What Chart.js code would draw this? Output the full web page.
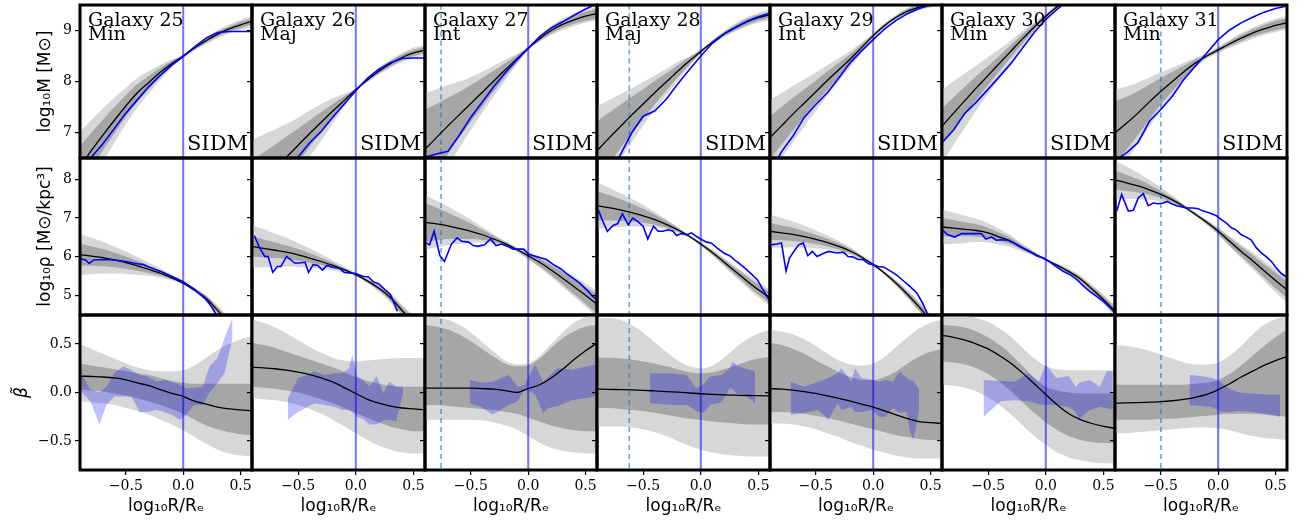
<!DOCTYPE html>
<html>
<head>
<meta charset="utf-8">
<script src="https://cdn.jsdelivr.net/npm/chart.js@4.4.0/dist/chart.umd.min.js"></script>
<style>
  body { margin: 0; background: #fff; }
  #wrap { position: relative; width: 1306px; height: 526px; overflow: hidden; background: #fff; }
  #wrap canvas { position: absolute; }
</style>
</head>
<body>
<div id="wrap"></div>
<script>
// radial grid shared by the model curves
const X = [-0.9,-0.8,-0.7,-0.6,-0.5,-0.4,-0.3,-0.2,-0.1,0,0.1,0.2,0.3,0.4,0.5,0.6];
const galaxyIds = ['25','26','27','28','29','30','31'];
const projections = ['Min','Maj','Int','Maj','Int','Min','Min'];
const dashedX = [null, null, -0.76, -0.62, null, null, -0.5];
const xTicks = [-0.5, 0, 0.5];
const massTicks = [7, 8, 9];
const rhoTicks = [5, 6, 7, 8];
const betaTicks = [-0.5, 0, 0.5];

// enclosed mass: model median, 1 and 2 sigma half widths, measured profile
const massMed = [
  [6.33,6.65,6.95,7.24,7.52,7.78,7.98,8.18,8.35,8.5,8.66,8.8,8.93,9.03,9.11,9.18],
  [5.85,6.08,6.3,6.52,6.75,6.98,7.2,7.42,7.63,7.84,8.03,8.2,8.35,8.47,8.56,8.62],
  [6.67,6.9,7.13,7.35,7.57,7.79,8.01,8.23,8.44,8.65,8.84,9.0,9.12,9.21,9.28,9.33],
  [6.64,6.88,7.11,7.34,7.56,7.78,7.99,8.2,8.4,8.59,8.77,8.93,9.06,9.17,9.25,9.31],
  [6.9,7.13,7.36,7.58,7.8,8.02,8.23,8.44,8.67,8.9,9.1,9.26,9.38,9.46,9.52,9.56],
  [7.12,7.38,7.63,7.88,8.12,8.36,8.6,8.84,9.07,9.28,9.47,9.63,9.76,9.86,9.93,9.98],
  [6.99,7.18,7.38,7.6,7.81,8.0,8.19,8.36,8.5,8.62,8.74,8.85,8.95,9.03,9.1,9.15]
];
const massW1 = [
  [0.4,0.35,0.3,0.26,0.21,0.17,0.13,0.09,0.05,0.02,0.03,0.04,0.05,0.05,0.06,0.06],
  [0.6,0.53,0.46,0.4,0.33,0.26,0.2,0.14,0.08,0.02,0.03,0.04,0.05,0.06,0.06,0.06],
  [0.78,0.66,0.55,0.45,0.36,0.28,0.2,0.13,0.07,0.02,0.04,0.06,0.07,0.08,0.09,0.09],
  [0.58,0.5,0.43,0.36,0.29,0.23,0.17,0.12,0.07,0.03,0.03,0.04,0.05,0.06,0.06,0.06],
  [0.42,0.37,0.32,0.27,0.22,0.18,0.14,0.1,0.06,0.03,0.03,0.03,0.04,0.04,0.05,0.05],
  [0.35,0.31,0.27,0.23,0.19,0.15,0.12,0.09,0.06,0.03,0.03,0.03,0.04,0.04,0.05,0.05],
  [0.62,0.52,0.43,0.34,0.26,0.19,0.12,0.07,0.03,0.04,0.05,0.06,0.07,0.08,0.09,0.09]
];
const massW2 = [
  [0.68,0.6,0.52,0.44,0.36,0.29,0.22,0.15,0.08,0.03,0.05,0.07,0.08,0.09,0.1,0.1],
  [1.0,0.88,0.76,0.65,0.54,0.45,0.36,0.25,0.13,0.03,0.05,0.07,0.08,0.09,0.1,0.1],
  [1.1,0.95,0.8,0.65,0.52,0.4,0.3,0.2,0.1,0.03,0.06,0.09,0.11,0.12,0.13,0.13],
  [0.87,0.75,0.64,0.53,0.43,0.34,0.26,0.18,0.1,0.04,0.04,0.06,0.08,0.09,0.1,0.1],
  [0.74,0.64,0.55,0.46,0.38,0.3,0.23,0.16,0.1,0.05,0.04,0.05,0.06,0.07,0.07,0.07],
  [0.72,0.62,0.53,0.44,0.36,0.28,0.21,0.15,0.09,0.05,0.04,0.05,0.06,0.07,0.07,0.07],
  [0.85,0.72,0.6,0.48,0.37,0.27,0.18,0.1,0.05,0.06,0.08,0.1,0.11,0.12,0.13,0.13]
];
const massObs = [
  [6.2,6.52,6.78,7.08,7.38,7.64,7.9,8.12,8.32,8.49,8.68,8.85,8.96,8.98,8.98,8.98],
  [null,null,null,6.2,6.52,6.8,7.02,7.3,7.56,7.82,8.06,8.24,8.37,8.45,8.46,8.46],
  [6.52,6.58,6.63,6.95,7.3,7.6,7.9,8.17,8.42,8.65,8.88,9.05,9.17,9.3,9.42,9.52],
  [null,6.1,6.55,6.99,7.32,7.42,7.65,7.95,8.23,8.5,8.75,8.93,9.06,9.18,9.27,9.34],
  [6.2,6.62,6.93,7.3,7.55,7.78,8.07,8.37,8.6,8.82,9.03,9.2,9.33,9.43,9.5,9.56],
  [6.8,7.05,7.38,7.6,7.85,8.1,8.36,8.66,8.96,9.22,9.42,9.6,9.75,9.85,9.92,9.97],
  [6.45,6.6,6.8,7.22,7.45,7.71,8.04,8.3,8.56,8.82,9.01,9.15,9.26,9.36,9.43,9.48]
];

// density
const rhoMed = [
  [6.06,6.02,5.98,5.92,5.85,5.77,5.68,5.58,5.46,5.32,5.14,4.93,4.62,4.3,4.0,3.7],
  [6.27,6.22,6.17,6.12,6.05,5.97,5.88,5.78,5.67,5.54,5.38,5.19,4.95,4.62,4.3,3.95],
  [6.89,6.85,6.8,6.73,6.66,6.57,6.46,6.34,6.19,6.03,5.86,5.66,5.45,5.23,5.01,4.78],
  [7.32,7.27,7.21,7.14,7.06,6.96,6.84,6.7,6.53,6.33,6.11,5.87,5.62,5.38,5.15,4.94],
  [6.66,6.62,6.58,6.52,6.45,6.37,6.27,6.15,5.99,5.8,5.58,5.32,5.03,4.71,4.35,3.98],
  [6.77,6.74,6.71,6.68,6.62,6.51,6.4,6.23,6.08,5.93,5.78,5.62,5.43,5.17,4.9,4.6],
  [7.98,7.91,7.83,7.73,7.61,7.47,7.3,7.1,6.89,6.66,6.4,6.14,5.9,5.64,5.39,5.15]
];
const rhoW1 = [
  [0.28,0.25,0.22,0.19,0.16,0.13,0.1,0.07,0.04,0.02,0.04,0.06,0.08,0.1,0.11,0.12],
  [0.26,0.23,0.2,0.17,0.15,0.12,0.09,0.07,0.04,0.02,0.04,0.06,0.08,0.1,0.11,0.12],
  [0.5,0.42,0.34,0.27,0.2,0.13,0.08,0.04,0.04,0.07,0.1,0.13,0.16,0.19,0.22,0.25],
  [0.38,0.33,0.28,0.23,0.18,0.13,0.09,0.05,0.03,0.03,0.05,0.07,0.09,0.11,0.13,0.15],
  [0.22,0.19,0.17,0.14,0.12,0.1,0.08,0.06,0.04,0.02,0.03,0.05,0.07,0.09,0.11,0.13],
  [0.24,0.21,0.18,0.16,0.13,0.11,0.08,0.06,0.04,0.02,0.03,0.04,0.05,0.07,0.08,0.09],
  [0.25,0.21,0.17,0.13,0.09,0.06,0.04,0.03,0.05,0.07,0.1,0.12,0.15,0.17,0.2,0.22]
];
const rhoW2 = [
  [0.53,0.47,0.41,0.35,0.29,0.23,0.17,0.12,0.07,0.04,0.06,0.09,0.12,0.15,0.18,0.2],
  [0.55,0.49,0.43,0.37,0.31,0.25,0.19,0.13,0.08,0.04,0.06,0.09,0.12,0.15,0.18,0.2],
  [0.7,0.6,0.5,0.4,0.3,0.2,0.12,0.06,0.06,0.1,0.14,0.18,0.22,0.26,0.3,0.34],
  [0.6,0.52,0.44,0.36,0.28,0.2,0.13,0.07,0.04,0.05,0.08,0.11,0.14,0.17,0.2,0.22],
  [0.43,0.38,0.33,0.28,0.23,0.18,0.14,0.1,0.06,0.03,0.05,0.08,0.11,0.14,0.17,0.2],
  [0.45,0.4,0.35,0.3,0.25,0.2,0.15,0.1,0.06,0.03,0.05,0.07,0.09,0.11,0.13,0.15],
  [0.5,0.42,0.34,0.26,0.18,0.11,0.06,0.05,0.07,0.1,0.14,0.18,0.22,0.26,0.3,0.33]
];
const rhoObsX = [
  [-0.9,-0.85,-0.82,-0.78,-0.7,-0.6,-0.5,-0.45,-0.4,-0.35,-0.3,-0.2,-0.1,0,0.1,0.2,0.25,0.3],
  [-0.88,-0.84,-0.79,-0.76,-0.72,-0.68,-0.65,-0.6,-0.53,-0.49,-0.44,-0.41,-0.37,-0.33,-0.29,-0.25,-0.21,-0.14,-0.1,0,0.06,0.11,0.15,0.2,0.25,0.3,0.36],
  [-0.89,-0.86,-0.82,-0.77,-0.73,-0.67,-0.62,-0.58,-0.52,-0.48,-0.44,-0.38,-0.33,-0.28,-0.23,-0.18,-0.13,-0.04,0.01,0.07,0.16,0.22,0.28,0.33,0.39,0.45,0.51,0.55,0.59],
  [-0.89,-0.85,-0.81,-0.76,-0.72,-0.68,-0.63,-0.59,-0.55,-0.5,-0.46,-0.41,-0.37,-0.33,-0.28,-0.24,-0.21,-0.17,-0.12,-0.08,-0.04,0.01,0.05,0.09,0.14,0.2,0.25,0.31,0.37,0.43,0.49,0.54,0.6],
  [-0.89,-0.84,-0.8,-0.76,-0.73,-0.68,-0.65,-0.61,-0.57,-0.53,-0.49,-0.44,-0.39,-0.35,-0.31,-0.26,-0.22,-0.18,-0.13,-0.09,-0.04,0,0.04,0.09,0.14,0.2,0.26,0.32,0.38,0.43,0.47],
  [-0.9,-0.85,-0.79,-0.73,-0.68,-0.62,-0.56,-0.52,-0.47,-0.43,-0.39,-0.33,-0.28,-0.24,-0.2,-0.14,-0.08,-0.02,0.04,0.09,0.15,0.21,0.27,0.33,0.38,0.44,0.5,0.56,0.6],
  [-0.885,-0.842,-0.784,-0.74,-0.697,-0.653,-0.61,-0.566,-0.523,-0.479,-0.445,-0.407,-0.363,-0.32,-0.276,-0.218,-0.175,-0.131,-0.073,-0.015,0.028,0.072,0.115,0.159,0.202,0.246,0.289,0.333,0.377,0.42,0.464,0.507,0.551,0.594]
];
const rhoObsY = [
  [5.95,5.92,5.83,5.92,5.93,5.92,5.88,5.85,5.82,5.8,5.74,5.63,5.5,5.36,5.16,4.9,4.7,4.45],
  [6.55,6.27,6.01,6.01,5.6,5.75,5.75,6.01,5.84,5.84,5.86,5.6,5.8,5.78,5.66,5.78,5.74,5.7,5.6,5.57,5.5,5.48,5.36,5.3,5.16,5.03,4.6],
  [6.36,6.31,6.66,6.03,5.88,6.33,6.49,6.4,6.38,6.29,6.27,6.31,6.46,6.29,6.33,6.27,6.2,6.2,6.06,6.01,5.93,5.8,5.7,5.58,5.45,5.32,5.15,5.02,4.91],
  [7.22,6.92,6.66,6.81,6.86,7.11,6.83,7.0,6.92,6.79,6.46,6.79,6.66,6.66,6.7,6.66,6.55,6.6,6.57,6.62,6.53,6.44,6.38,6.36,6.23,6.1,6.03,5.88,5.74,5.58,5.41,5.15,4.85],
  [6.31,6.33,6.36,5.63,5.97,6.19,6.31,6.36,6.03,6.14,6.01,6.08,6.14,6.12,6.1,6.12,6.01,6.0,5.93,5.93,5.82,5.8,5.75,5.74,5.65,5.54,5.39,5.24,5.07,4.81,4.55],
  [6.7,6.57,6.51,6.6,6.6,6.6,6.6,6.46,6.51,6.43,6.44,6.43,6.36,6.29,6.23,6.14,6.03,5.97,5.86,5.75,5.63,5.54,5.41,5.24,5.11,4.98,4.85,4.68,4.55],
  [7.18,7.61,7.18,7.2,7.52,7.63,7.32,7.39,7.37,7.39,7.43,7.37,7.32,7.29,7.26,7.26,7.24,7.18,7.13,7.06,6.96,6.87,6.75,6.69,6.57,6.51,6.43,6.23,6.1,6.0,5.88,5.71,5.57,5.48]
];

// anisotropy
const betaMed = [
  [0.17,0.165,0.16,0.15,0.13,0.1,0.07,0.03,-0.01,-0.04,-0.09,-0.12,-0.15,-0.17,-0.18,-0.19],
  [0.26,0.255,0.245,0.23,0.21,0.185,0.15,0.11,0.05,-0.01,-0.07,-0.11,-0.14,-0.16,-0.17,-0.18],
  [0.045,0.045,0.045,0.045,0.045,0.04,0.035,0.02,0.0,0.04,0.08,0.15,0.24,0.34,0.43,0.51],
  [0.035,0.033,0.03,0.027,0.022,0.016,0.01,0.003,-0.005,-0.013,-0.02,-0.025,-0.028,-0.031,-0.033,-0.035],
  [0.04,0.035,0.025,0.01,-0.01,-0.035,-0.06,-0.09,-0.12,-0.15,-0.19,-0.23,-0.27,-0.3,-0.31,-0.32],
  [0.59,0.57,0.54,0.5,0.45,0.38,0.3,0.2,0.09,-0.02,-0.13,-0.22,-0.28,-0.32,-0.35,-0.37],
  [-0.11,-0.108,-0.105,-0.1,-0.095,-0.085,-0.07,-0.05,-0.02,0.03,0.09,0.16,0.22,0.28,0.33,0.37]
];
const betaHi2 = [
  [0.5,0.45,0.4,0.35,0.3,0.26,0.23,0.22,0.22,0.23,0.28,0.36,0.44,0.5,0.55,0.58],
  [0.75,0.72,0.67,0.61,0.54,0.47,0.41,0.36,0.33,0.32,0.33,0.34,0.35,0.355,0.355,0.355],
  [0.79,0.78,0.75,0.7,0.62,0.52,0.42,0.33,0.29,0.3,0.38,0.5,0.62,0.72,0.78,0.8],
  [0.77,0.77,0.75,0.7,0.62,0.52,0.42,0.33,0.27,0.25,0.28,0.36,0.46,0.55,0.61,0.65],
  [0.65,0.63,0.6,0.55,0.48,0.4,0.33,0.29,0.28,0.3,0.37,0.47,0.57,0.66,0.72,0.75],
  [0.8,0.8,0.79,0.77,0.73,0.66,0.57,0.46,0.35,0.27,0.24,0.23,0.23,0.23,0.23,0.23],
  [0.49,0.48,0.46,0.43,0.39,0.35,0.31,0.29,0.29,0.31,0.38,0.48,0.6,0.7,0.76,0.79]
];
const betaHi1 = [
  [0.3,0.28,0.26,0.24,0.22,0.2,0.18,0.15,0.12,0.1,0.09,0.09,0.09,0.09,0.09,0.09],
  [0.51,0.49,0.46,0.42,0.38,0.34,0.3,0.26,0.21,0.16,0.12,0.09,0.07,0.06,0.06,0.06],
  [0.7,0.68,0.65,0.6,0.53,0.45,0.37,0.3,0.27,0.28,0.35,0.46,0.56,0.63,0.68,0.7],
  [0.36,0.36,0.35,0.34,0.32,0.3,0.27,0.24,0.21,0.2,0.21,0.24,0.28,0.32,0.35,0.37],
  [0.51,0.49,0.45,0.4,0.33,0.27,0.21,0.16,0.13,0.13,0.16,0.22,0.3,0.37,0.42,0.45],
  [0.7,0.69,0.67,0.63,0.57,0.49,0.39,0.27,0.15,0.06,0.02,0.0,-0.01,-0.01,-0.01,-0.01],
  [0.08,0.08,0.08,0.08,0.08,0.08,0.08,0.09,0.1,0.13,0.19,0.28,0.38,0.48,0.57,0.65]
];
const betaLo1 = [
  [0.03,0.02,0.01,-0.01,-0.03,-0.06,-0.09,-0.13,-0.17,-0.22,-0.28,-0.34,-0.38,-0.41,-0.43,-0.44],
  [0.06,0.05,0.04,0.02,0.0,-0.03,-0.07,-0.11,-0.16,-0.21,-0.26,-0.31,-0.35,-0.38,-0.4,-0.4],
  [-0.13,-0.13,-0.14,-0.15,-0.16,-0.17,-0.18,-0.2,-0.22,-0.26,-0.3,-0.34,-0.37,-0.39,-0.4,-0.4],
  [-0.16,-0.16,-0.17,-0.18,-0.19,-0.21,-0.23,-0.25,-0.27,-0.28,-0.3,-0.31,-0.32,-0.33,-0.33,-0.33],
  [-0.2,-0.2,-0.21,-0.22,-0.24,-0.26,-0.29,-0.32,-0.35,-0.38,-0.41,-0.44,-0.46,-0.48,-0.49,-0.49],
  [0.32,0.31,0.29,0.25,0.19,0.11,0.01,-0.1,-0.21,-0.31,-0.39,-0.45,-0.49,-0.51,-0.52,-0.52],
  [-0.28,-0.28,-0.28,-0.28,-0.27,-0.27,-0.26,-0.25,-0.24,-0.23,-0.22,-0.22,-0.22,-0.23,-0.24,-0.25]
];
const betaLo2 = [
  [-0.09,-0.1,-0.11,-0.13,-0.16,-0.19,-0.23,-0.28,-0.33,-0.39,-0.46,-0.53,-0.59,-0.63,-0.65,-0.66],
  [-0.06,-0.07,-0.08,-0.1,-0.13,-0.17,-0.22,-0.28,-0.35,-0.42,-0.49,-0.55,-0.59,-0.62,-0.63,-0.63],
  [-0.28,-0.28,-0.28,-0.28,-0.28,-0.29,-0.31,-0.34,-0.38,-0.45,-0.52,-0.57,-0.6,-0.62,-0.63,-0.63],
  [-0.35,-0.35,-0.35,-0.36,-0.38,-0.41,-0.45,-0.5,-0.55,-0.59,-0.62,-0.64,-0.65,-0.66,-0.66,-0.66],
  [-0.32,-0.32,-0.33,-0.35,-0.38,-0.42,-0.46,-0.51,-0.55,-0.59,-0.62,-0.65,-0.67,-0.68,-0.68,-0.68],
  [0.08,0.07,0.05,0.01,-0.05,-0.13,-0.23,-0.34,-0.45,-0.54,-0.62,-0.67,-0.7,-0.72,-0.73,-0.73],
  [-0.42,-0.42,-0.41,-0.4,-0.39,-0.38,-0.37,-0.36,-0.36,-0.37,-0.39,-0.42,-0.45,-0.47,-0.48,-0.49]
];
const betaObsX = [
  [-0.89,-0.81,-0.73,-0.67,-0.6,-0.52,-0.45,-0.38,-0.31,-0.23,-0.16,-0.1,-0.03,0.03,0.09,0.17,0.23,0.3,0.36,0.43],
  [-0.59,-0.5,-0.42,-0.36,-0.27,-0.18,-0.12,-0.06,-0.03,0.01,0.06,0.12,0.18,0.24,0.29,0.35,0.41],
  [-0.51,-0.41,-0.31,-0.17,-0.09,-0.03,0.06,0.13,0.18,0.26,0.38,0.59],
  [-0.44,-0.24,-0.12,-0.04,0.02,0.08,0.18,0.25,0.28,0.31,0.38,0.47],
  [-0.72,-0.6,-0.48,-0.39,-0.31,-0.28,-0.19,-0.16,-0.1,-0.01,0.05,0.11,0.17,0.23,0.29,0.32,0.35,0.4],
  [-0.54,-0.39,-0.27,-0.15,-0.06,0.0,0.09,0.2,0.26,0.29,0.38,0.47,0.53,0.58],
  [-0.25,-0.15,-0.05,0.03,0.1,0.18,0.3,0.42,0.54]
];
const betaObsHi = [
  [0.2,0.03,0.0,0.06,0.2,0.27,0.23,0.18,0.165,0.11,0.13,0.11,0.08,0.045,0.05,0.06,0.27,0.36,0.56,0.77],
  [-0.06,0.15,0.18,0.22,0.18,0.2,0.2,0.25,0.39,0.17,0.13,0.06,0.17,-0.01,0.11,0.06,0.06],
  [0.13,0.1,0.11,0.18,0.06,0.08,0.29,0.11,0.165,0.25,0.235,0.29],
  [0.2,0.195,0.18,0.045,0.08,0.165,0.18,0.25,0.32,0.28,0.25,0.22],
  [0.11,0.06,0.11,0.15,0.2,0.25,0.11,0.25,0.15,0.13,0.11,0.13,0.11,0.22,0.15,0.13,0.12,0.03],
  [0.13,0.12,0.11,0.2,0.11,0.29,0.15,0.17,0.06,0.1,0.13,0.06,0.22,0.22],
  [0.18,0.17,0.15,0.1,0.04,0.0,-0.01,-0.02,-0.02]
];
const betaObsLo = [
  [0.01,-0.09,-0.33,-0.13,-0.04,-0.04,-0.04,-0.2,-0.2,-0.18,-0.2,-0.23,-0.28,-0.23,-0.13,-0.13,0.0,0.1,0.2,0.56],
  [-0.28,-0.2,-0.15,-0.11,-0.13,-0.15,-0.18,-0.18,-0.2,-0.25,-0.27,-0.33,-0.33,-0.29,-0.28,-0.3,-0.01],
  [-0.11,-0.15,-0.23,-0.13,-0.09,0.045,-0.02,-0.21,-0.16,-0.14,-0.08,-0.04],
  [-0.11,-0.13,-0.13,-0.19,-0.21,-0.13,-0.1,0.045,0.03,-0.01,-0.02,-0.11],
  [-0.23,-0.21,-0.18,-0.28,-0.11,-0.18,-0.15,-0.2,-0.2,-0.18,-0.25,-0.25,-0.16,-0.21,-0.2,-0.39,-0.49,-0.18],
  [-0.25,-0.09,-0.08,-0.09,-0.12,-0.13,-0.13,-0.15,-0.2,-0.27,-0.18,-0.15,-0.16,-0.18],
  [-0.13,-0.14,-0.15,-0.2,-0.2,-0.19,-0.2,-0.22,-0.25]
];

const LIGHT = 'rgb(215,215,215)';
const DARK = 'rgb(166,166,166)';
const OBS_BAND = 'rgba(0,0,255,0.25)';

const colLeft = [80, 252, 425, 597, 770, 942, 1115, 1287];
const rowTop = [5, 158, 315, 470];

const pts = (xs, ys) => xs.map((x, k) => ({x: x, y: ys[k]}));

// band = lower edge (no fill) + upper edge filled down to it
function addBand(sets, xs, lo, hi, color, order, smooth) {
  const i = sets.length;
  const common = {borderWidth: 0, pointRadius: 0, order: order,
    tension: smooth ? 0.4 : 0, cubicInterpolationMode: smooth ? 'monotone' : 'default'};
  sets.push(Object.assign({data: pts(xs, lo), fill: false}, common));
  sets.push(Object.assign({data: pts(xs, hi), fill: {target: i}, backgroundColor: color}, common));
}

function addLine(sets, xs, ys, color, width, order, smooth) {
  sets.push({data: pts(xs, ys), borderColor: color, borderWidth: width, pointRadius: 0,
    fill: false, order: order, tension: smooth ? 0.4 : 0,
    cubicInterpolationMode: smooth ? 'monotone' : 'default'});
}

function addVLine(sets, x, color, width, dash, order) {
  sets.push({data: [{x: x, y: -100}, {x: x, y: 100}], borderColor: color, borderWidth: width,
    borderDash: dash, pointRadius: 0, fill: false, order: order});
}

function modelSets(sets, med, w1, w2) {
  addBand(sets, X, med.map((v, k) => v - w2[k]), med.map((v, k) => v + w2[k]), LIGHT, 10, true);
  addBand(sets, X, med.map((v, k) => v - w1[k]), med.map((v, k) => v + w1[k]), DARK, 9, true);
  addLine(sets, X, med, '#000', 1.3, 3, true);
}

function buildDatasets(row, g) {
  const sets = [];
  if (row === 0) {
    modelSets(sets, massMed[g], massW1[g], massW2[g]);
    addLine(sets, X, massObs[g], '#0000ff', 1.6, 2, false);
  } else if (row === 1) {
    modelSets(sets, rhoMed[g], rhoW1[g], rhoW2[g]);
    addLine(sets, rhoObsX[g], rhoObsY[g], '#0000ff', 1.6, 2, false);
  } else {
    addBand(sets, X, betaLo2[g], betaHi2[g], LIGHT, 10, true);
    addBand(sets, X, betaLo1[g], betaHi1[g], DARK, 9, true);
    addBand(sets, betaObsX[g], betaObsLo[g], betaObsHi[g], OBS_BAND, 8, false);
    addLine(sets, X, betaMed[g], '#000', 1.3, 3, true);
  }
  addVLine(sets, 0, 'rgba(0,0,255,0.55)', 2, [], 5);
  if (dashedX[g] !== null) addVLine(sets, dashedX[g], 'rgba(31,119,180,0.65)', 1.6, [5, 4], 4);
  return sets;
}

const framePlugin = {
  id: 'frame',
  afterDatasetsDraw(chart) {
    const {ctx, chartArea: a} = chart;
    ctx.save();
    ctx.lineWidth = 3;
    ctx.strokeStyle = '#000';
    ctx.strokeRect(a.left, a.top, a.right - a.left, a.bottom - a.top);
    ctx.restore();
  }
};

const labelPlugin = {
  id: 'panelLabel',
  afterDatasetsDraw(chart, args, opts) {
    if (!opts.title) return;
    const {ctx, chartArea: a} = chart;
    ctx.save();
    ctx.fillStyle = '#000';
    ctx.font = '19px "DejaVu Serif"';
    ctx.textAlign = 'left';
    ctx.fillText(opts.title, a.left + 8, a.top + 21);
    ctx.fillText(opts.sub, a.left + 8, a.top + 35);
    if (opts.sidm) {
      ctx.font = '21px "DejaVu Serif"';
      ctx.textAlign = 'right';
      ctx.fillText('SIDM', a.right - 4, a.bottom - 8);
    }
    ctx.restore();
  }
};

const rowCfg = [
  {min: 6.5, max: 9.5, ticks: massTicks, title: 'log₁₀M [M⊙]', pad: 35, italic: false},
  {min: 4.5, max: 8.55, ticks: rhoTicks, title: 'log₁₀ρ [M⊙/kpc³]', pad: 35, italic: false},
  {min: -0.8, max: 0.8, ticks: betaTicks, title: 'β̃', pad: 12, italic: true}
];

const fmt = (v, row) => row === 2 ? v.toFixed(1).replace('-', '−') : String(v);
const tickFont = {family: 'DejaVu Serif', size: 14};
const tickGrid = {display: true, drawOnChartArea: false, drawTicks: true, tickLength: 5,
  color: '#000', lineWidth: 1.2};

function fixBox(size, horizontal) {
  return function (s) {
    if (horizontal) s.height = size; else s.width = size;
    s.paddingTop = 0; s.paddingBottom = 0; s.paddingLeft = 0; s.paddingRight = 0;
  };
}

const wrap = document.getElementById('wrap');
for (let r = 0; r < 3; r++) {
  for (let c = 0; c < 7; c++) {
    const w = colLeft[c + 1] - colLeft[c];
    const h = rowTop[r + 1] - rowTop[r];
    const padL = c === 0 ? 80 : 8;
    const padB = r === 2 ? 56 : 6;
    const cv = document.createElement('canvas');
    cv.width = padL + w + 6;
    cv.height = 6 + h + padB;
    cv.style.left = (colLeft[c] - padL) + 'px';
    cv.style.top = (rowTop[r] - 6) + 'px';
    cv.style.width = cv.width + 'px';
    cv.style.height = cv.height + 'px';
    wrap.appendChild(cv);
    const cfg = rowCfg[r];

    new Chart(cv, {
      type: 'line',
      data: {datasets: buildDatasets(r, c)},
      options: {
        responsive: false,
        animation: false,
        events: [],
        layout: {padding: {left: 0, right: 6, top: 6, bottom: r === 2 ? 0 : 6}},
        plugins: {
          legend: {display: false},
          tooltip: {enabled: false},
          panelLabel: r === 0
            ? {title: 'Galaxy ' + galaxyIds[c], sub: projections[c], sidm: true}
            : {}
        },
        scales: {
          x: {
            type: 'linear', min: -0.9, max: 0.6,
            display: r === 2,
            afterBuildTicks: s => { s.ticks = xTicks.map(v => ({value: v})); },
            afterFit: fixBox(r === 2 ? 56 : 0, true),
            ticks: {font: tickFont, color: '#000', padding: 3, maxRotation: 0,
              callback: v => fmt(v, 2)},
            grid: tickGrid,
            border: {display: false},
            title: {display: true, text: 'log₁₀R/Rₑ', color: '#000',
              font: {family: 'DejaVu Sans', size: 17}, padding: {top: 0, bottom: 9}}
          },
          y: {
            type: 'linear', min: cfg.min, max: cfg.max,
            afterBuildTicks: s => { s.ticks = cfg.ticks.map(v => ({value: v})); },
            afterFit: fixBox(padL, false),
            ticks: {display: c === 0, font: tickFont, color: '#000', padding: 3,
              callback: v => fmt(v, r)},
            grid: tickGrid,
            border: {display: false},
            title: {display: c === 0, text: cfg.title, color: '#000',
              font: {family: 'DejaVu Sans', size: 17, style: cfg.italic ? 'italic' : 'normal'},
              padding: {top: cfg.pad, bottom: 0}}
          }
        }
      },
      plugins: [framePlugin, labelPlugin]
    });
  }
}
</script>
</body>
</html>
